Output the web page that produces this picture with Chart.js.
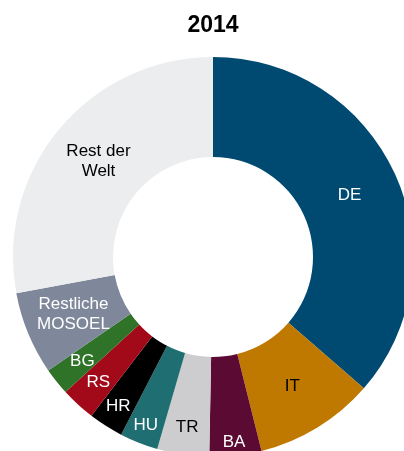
<!DOCTYPE html>
<html>
<head>
<meta charset="utf-8">
<script src="https://cdn.jsdelivr.net/npm/chart.js@4"></script>
<style>
  html, body { margin: 0; padding: 0; background: #fff; }
  .wrap { width: 404px; height: 451px; overflow: hidden; position: relative; }
  canvas { display: block; }
</style>
</head>
<body>
<div class="wrap">
  <canvas id="chart" width="426" height="460"></canvas>
</div>
<script>
// Anteile 2014 (%), im Uhrzeigersinn ab 12 Uhr
const categories = ["DE", "IT", "BA", "TR", "HU", "HR", "RS", "BG", "Restliche MOSOEL", "Rest der Welt"];
const shares = [36.4, 9.7, 4.2, 4.2, 3.1, 2.8, 2.8, 2.2, 6.7, 27.9];
const labelLines = [["DE"], ["IT"], ["BA"], ["TR"], ["HU"], ["HR"], ["RS"], ["BG"], ["Restliche", "MOSOEL"], ["Rest der", "Welt"]];

const colors = ["#004a72", "#bf7800", "#5b0a33", "#cdcdcf", "#1f6f72", "#000000", "#a30a19", "#2e7328", "#7e889a", "#ecedef"];
const textColors = ["#fff", "#000", "#fff", "#000", "#fff", "#fff", "#fff", "#fff", "#fff", "#000"];
// where the label sits across the ring (0 = inner edge, 1 = outer edge)
const labelRadius = [0.5, 0.52, 0.87, 0.72, 0.81, 0.77, 0.70, 0.67, 0.51, 0.49];

const sliceLabels = {
    id: "sliceLabels",
    afterDatasetsDraw(chart) {
        const ctx = chart.ctx;
        const arcs = chart.getDatasetMeta(0).data;
        ctx.save();
        ctx.font = "17px 'Liberation Sans', Arial, sans-serif";
        ctx.textAlign = "center";
        ctx.textBaseline = "middle";
        arcs.forEach((arc, i) => {
            const p = arc.getProps(["x", "y", "startAngle", "endAngle", "innerRadius", "outerRadius"], true);
            const mid = (p.startAngle + p.endAngle) / 2;
            const r = p.innerRadius + labelRadius[i] * (p.outerRadius - p.innerRadius);
            const x = p.x + Math.cos(mid) * r;
            const y = p.y + Math.sin(mid) * r;
            const lines = labelLines[i];
            const lh = 20;
            ctx.fillStyle = textColors[i];
            lines.forEach((line, j) => {
                ctx.fillText(line, x, y + (j - (lines.length - 1) / 2) * lh);
            });
        });
        ctx.restore();
    }
};

const ctx = document.getElementById("chart").getContext("2d");
new Chart(ctx, {
    type: "doughnut",
    data: {
        labels: categories,
        datasets: [{
            data: shares,
            backgroundColor: colors,
            borderWidth: 0,
            hoverOffset: 0
        }]
    },
    options: {
        responsive: false,
        animation: false,
        cutout: "50%",
        events: [],
        layout: {
            padding: { left: 13, right: 13, top: 0, bottom: 3 }
        },
        plugins: {
            legend: { display: false },
            tooltip: { enabled: false },
            title: {
                display: true,
                text: "2014",
                color: "#000",
                font: { family: "'Liberation Sans', Arial, sans-serif", size: 23, weight: "bold", lineHeight: 1.2 },
                padding: { top: 12, bottom: 17.4 }
            }
        }
    },
    plugins: [sliceLabels]
});
</script>
</body>
</html>
